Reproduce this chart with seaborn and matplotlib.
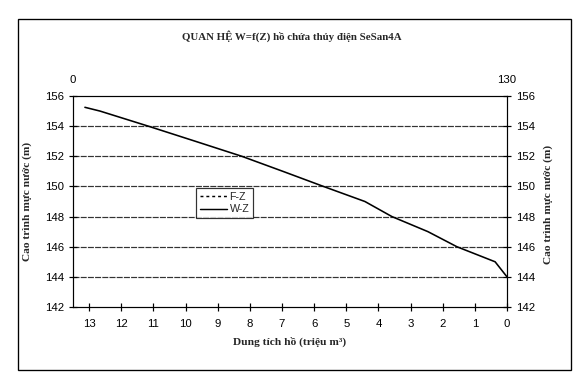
import matplotlib
matplotlib.use("Agg")
import matplotlib.pyplot as plt
from matplotlib.lines import Line2D
from matplotlib.patches import Rectangle
import seaborn as sns
import pandas as pd

# W-Z relation (volume in million m3, elevation in m)
volume_w = [13.13, 12.66, 11.16, 9.7, 8.25, 6.97, 5.71, 4.42, 3.58, 2.46, 1.56, 0.37, 0.0]
elevation_z = [155.25, 155.0, 154.0, 153.0, 152.0, 151.0, 150.0, 149.0, 148.0, 147.0, 146.0, 145.0, 144.0]
x_ticks = [13, 12, 11, 10, 9, 8, 7, 6, 5, 4, 3, 2, 1, 0]
y_ticks = [142, 144, 146, 148, 150, 152, 154, 156]
top_ticks = [0, 130]

title = "QUAN HỆ W=f(Z) hồ chứa thủy điện SeSan4A"
xlabel = "Dung tích hồ (triệu m³)"
ylabel = "Cao trình mực nước (m)"

sns.set_theme(style="white")
plt.rcParams["font.family"] = ["Liberation Sans", "DejaVu Sans"]

df = pd.DataFrame({"W": volume_w, "Z": elevation_z})

fig = plt.figure(figsize=(6, 3.9375), dpi=96)
ax = fig.add_axes([73/576, 1-307/378, (507-73)/576, (307-96)/378])

sns.lineplot(data=df, x="W", y="Z", sort=False, color="black", lw=1.2, ax=ax, legend=False)

ax.set_xlim(13.5, 0)
ax.set_ylim(142, 156)
ax.set_xticks(x_ticks)
ax.set_yticks(y_ticks)
for y in y_ticks[1:-1]:
    ax.axhline(y, color="#333333", lw=0.9, ls=(0, (5, 1)), zorder=0)

for s in ax.spines.values():
    s.set_color("black")
    s.set_linewidth(0.9)

ax.tick_params(axis="both", direction="inout", length=6, width=0.9, colors="black",
               labelsize=8.5, bottom=True, left=True, right=True, labelright=True)
ax.tick_params(axis="x", pad=6)
serif = ["Liberation Serif", "DejaVu Serif"]
ax.set_xlabel(xlabel, fontfamily=serif, fontweight="bold", fontsize=8.5, labelpad=6)
ax.set_ylabel(ylabel, fontfamily=serif, fontweight="bold", fontsize=8.5, labelpad=10)

# right label
fig.text(548/576, 1-204/378, ylabel, rotation=90, ha="center", va="center",
         fontfamily=serif, fontweight="bold", fontsize=8.5)

ax2 = ax.twiny()
ax2.set_xlim(0, 130)
ax2.set_xticks(top_ticks)
ax2.tick_params(axis="x", length=0, labelsize=8.5, pad=8, colors="black")
for s in ax2.spines.values():
    s.set_visible(False)

handles = [Line2D([], [], color="black", ls=(0, (2, 2)), lw=1.1),
           Line2D([], [], color="black", ls="-", lw=1.1)]
leg = ax.legend(handles, ["F-Z", "W-Z"], loc="upper left",
                bbox_to_anchor=((196-73)/434, 1-(188-96)/211), frameon=True,
                fontsize=8, handlelength=2.6, handletextpad=0.2, borderpad=0.35,
                labelspacing=0.25, fancybox=False, borderaxespad=0)
leg.get_frame().set_edgecolor("black")
leg.get_frame().set_linewidth(0.9)

fig.text(292/576, 1-36/378, title, ha="center", va="center",
         fontfamily=serif, fontweight="bold", fontsize=8.2)

fig.patches.append(Rectangle((18/576, 1-370/378), (571-18)/576, (370-19)/378,
                             transform=fig.transFigure, fill=False, ec="black", lw=1.0))

fig.savefig("out.png", dpi=96, facecolor="white")
